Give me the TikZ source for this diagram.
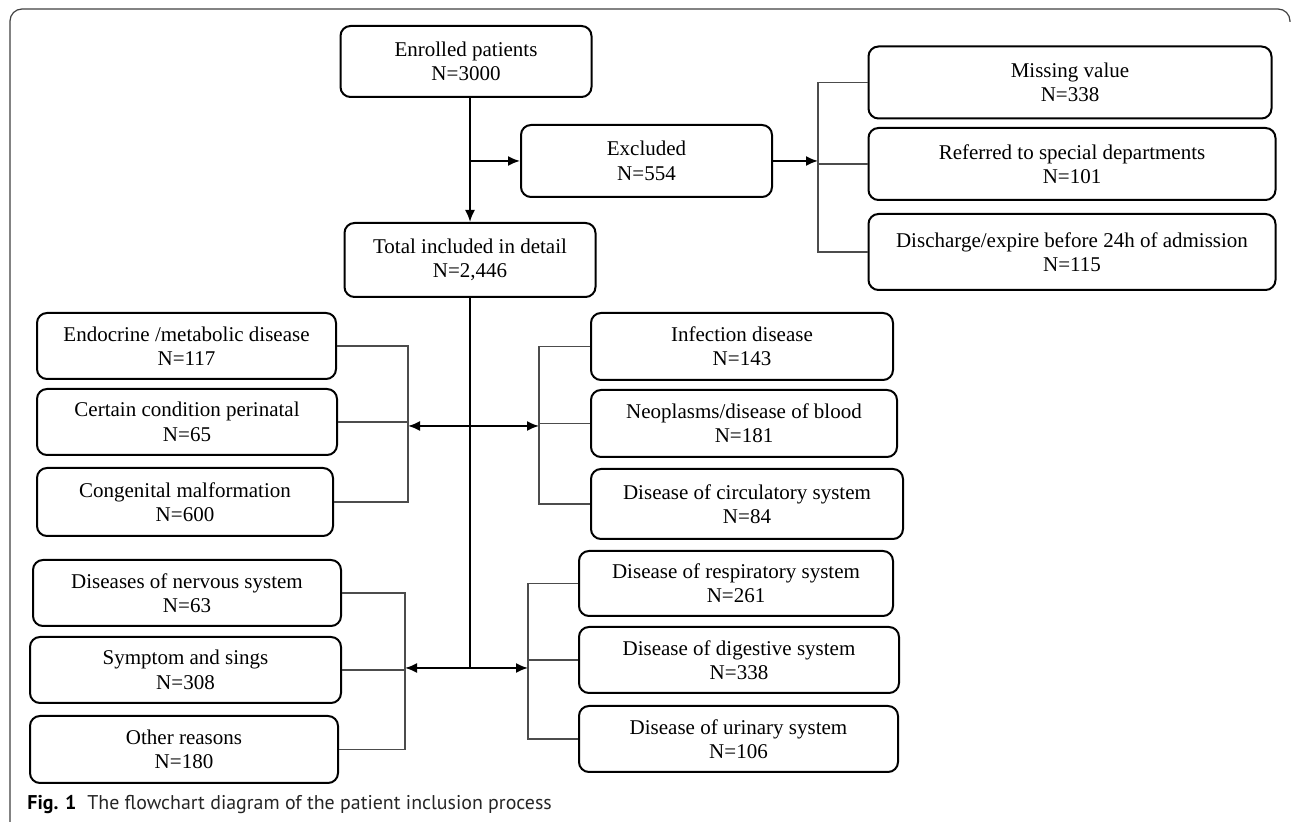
\documentclass[tikz,border=0pt]{standalone}
\usepackage{fontspec}
\setmainfont{Liberation Serif}
\newfontfamily\capfont{PT Sans}
\usetikzlibrary{arrows.meta}
\tikzstyle{box}=[draw, line width=1pt, rounded corners=5pt, align=center, inner sep=0pt, font=\fontsize{10.5}{12.2}\selectfont]
\tikzstyle{flow}=[line width=0.9pt, -{Latex[length=6pt,width=5pt]}]
\tikzstyle{flowboth}=[line width=0.9pt, {Latex[length=6pt,width=5pt]}-{Latex[length=6pt,width=5pt]}]
\tikzstyle{link}=[line width=0.55pt, black!70]

\begin{document}
\begin{tikzpicture}[x=0.5pt, y=-0.5pt]
				\useasboundingbox (0,0) rectangle (1292,822);
				\draw[black!75, line width=0.6pt, rounded corners=6pt] (10,822) -- (10,9) -- (1290,9) -- (1290,22);
				% top part
				\node[box, minimum width=125.5pt, minimum height=35.5pt] (enrolled) at (466,61.5) {Enrolled patients\\N=3000};
				\node[box, minimum width=125.5pt, minimum height=36pt] (excluded) at (646.5,161) {Excluded\\N=554};
				\node[box, minimum width=125.5pt, minimum height=37pt] (total) at (470,260) {Total included in detail\\N=2,446};
				\node[box, minimum width=201.5pt, minimum height=36pt] (missing) at (1070,82.5) {Missing value\\N=338};
				\node[box, minimum width=203.5pt, minimum height=36pt] (referred) at (1072,164) {Referred to special departments\\N=101};
				\node[box, minimum width=203.5pt, minimum height=38pt] (discharge) at (1072,252) {Discharge/expire before 24h of admission\\N=115};
				% disease groups
				\node[box, minimum width=149.5pt, minimum height=33pt] (endo) at (186.5,346) {Endocrine /metabolic disease\\N=117};
				\node[box, minimum width=150pt, minimum height=33pt] (certain) at (187,422) {Certain condition perinatal\\N=65};
				\node[box, minimum width=148pt, minimum height=34pt] (congen) at (185,502) {Congenital malformation\\N=600};
				\node[box, minimum width=151pt, minimum height=33.5pt] (infect) at (742,346.5) {Infection disease\\N=143};
				\node[box, minimum width=153pt, minimum height=33.5pt] (neo) at (744,423.5) {Neoplasms/disease of blood\\N=181};
				\node[box, minimum width=156pt, minimum height=35pt] (circ) at (747,504) {Disease of circulatory system\\N=84};
				\node[box, minimum width=154pt, minimum height=33pt] (nerv) at (187,593) {Diseases of nervous system\\N=63};
				\node[box, minimum width=155.5pt, minimum height=33pt] (symp) at (185.5,670) {Symptom and sings\\N=308};
				\node[box, minimum width=154pt, minimum height=33.5pt] (other) at (184,749.5) {Other reasons\\N=180};
				\node[box, minimum width=157pt, minimum height=32.5pt] (resp) at (736,583.5) {Disease of respiratory system\\N=261};
				\node[box, minimum width=160pt, minimum height=33pt] (dig) at (739,660) {Disease of digestive system\\N=338};
				\node[box, minimum width=159.5pt, minimum height=33pt] (urin) at (738.5,739) {Disease of urinary system\\N=106};
				\node[anchor=base west, inner sep=0pt, text=black!85, font=\capfont\fontsize{9.95}{11}\selectfont] (caption) at (27,810) {\textbf{\color{black}Fig. 1}\hspace{0.55em}The flowchart diagram of the patient inclusion process};
				% bracket points
				\coordinate (exbar) at (818,161);
				\coordinate (hubA) at (470,426);
				\coordinate (hubB) at (470,669);
				\coordinate (barL1) at (408,426);
				\coordinate (barR1) at (539,426);
				\coordinate (barL2) at (405,668);
				\coordinate (barR2) at (528,668);
				% connectors
				\draw[flow] (enrolled.south -| total.north) -- (total.north);
				\draw[flow] (total.north |- excluded.west) -- (excluded.west);
				\draw[flow] (excluded.east) -- (exbar);
				\draw[link] (missing.west) -| (exbar |- discharge.west) -- (discharge.west);
				\draw[link] (referred.west) -- (referred.west -| exbar);
				\draw[line width=0.6pt] (total.south) -- (hubB);
				\draw[flowboth] (barL1) -- (barR1);
				\draw[link] (endo.east) -| (barL1 |- congen.east) -- (congen.east);
				\draw[link] (certain.east) -- (certain.east -| barL1);
				\draw[link] (infect.west) -| (barR1 |- circ.west) -- (circ.west);
				\draw[link] (neo.west) -- (neo.west -| barR1);
				\draw[flowboth] (barL2) -- (barR2);
				\draw[link] (nerv.east) -| (barL2 |- other.east) -- (other.east);
				\draw[link] (symp.east) -- (symp.east -| barL2);
				\draw[link] (resp.west) -| (barR2 |- urin.west) -- (urin.west);
				\draw[link] (dig.west) -- (dig.west -| barR2);
			\end{tikzpicture}
\end{document}
